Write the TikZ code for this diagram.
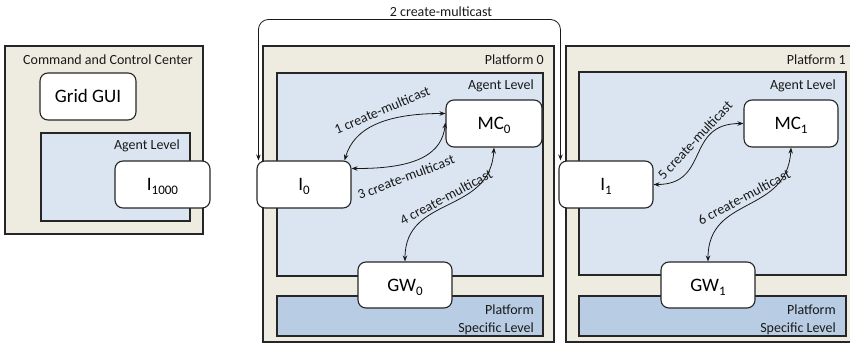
\documentclass[tikz,border=0pt]{standalone}
\usepackage{fontspec}
\setmainfont{Carlito}
\usetikzlibrary{arrows.meta}
\definecolor{beige}{RGB}{238,236,225}
\definecolor{agentblue}{RGB}{219,229,241}
\definecolor{pslblue}{RGB}{184,204,228}
\newcommand\lowsub[1]{\raisebox{-4pt}{\fontsize{13}{13}\selectfont #1}}
\begin{document}
\begin{tikzpicture}[x=1pt,y=-1pt,
  frame/.style={draw=black!85, line width=1.1pt, fill=beige},
  agentlvl/.style={draw=black!85, line width=1.1pt, fill=agentblue},
  pslvl/.style={draw=black!85, line width=1.1pt, fill=pslblue},
  agentbox/.style={draw=black!85, line width=1.1pt, fill=white, rounded corners=8pt,
    font=\fontsize{19}{22}\selectfont, inner sep=0pt, text height=12.2pt, text depth=0pt},
  lbl/.style={font=\fontsize{14}{18}\selectfont, inner sep=0pt, text=black!90},
  msg/.style={{Stealth[length=6pt,width=4.5pt]}-{Stealth[length=6pt,width=4.5pt]}, line width=0.8pt, draw=black!90}]
\useasboundingbox (0,0) rectangle (850,344);

% ---------- Command and Control Center ----------
\path[frame] (5,46) rectangle (203,234);
\node[lbl, anchor=base east] (cccl) at (193,64.5) {Command and Control Center};
\node[agentbox, minimum width=96pt, minimum height=47pt] (gui) at (88,96.5) {Grid GUI};
\path[agentlvl] (41,133) rectangle (190,221);
\node[lbl, anchor=base east] (cccal) at (180,149.5) {Agent Level};
\node[agentbox, minimum width=95pt, minimum height=47pt] (I1000) at (162.5,184.5) {I\lowsub{1000}};

% ---------- Platform 0 ----------
\path[frame] (263,46) rectangle (554,342);
\node[lbl, anchor=base east] (p0l) at (544,64.5) {Platform 0};
\path[agentlvl] (277,73) rectangle (543,276);
\node[lbl, anchor=base east] (p0al) at (534,89.5) {Agent Level};
\path[pslvl] (277,296) rectangle (543,336);
\node[lbl, anchor=south east, align=right] (p0pl) at (534,334.5) {Platform\\Specific Level};
\node[agentbox, minimum width=94pt, minimum height=47pt] (I0) at (304,184.5) {I\lowsub{0}};
\node[agentbox, minimum width=96pt, minimum height=47pt] (MC0) at (494,123.5) {MC\lowsub{0}};
\node[agentbox, minimum width=94pt, minimum height=46pt] (GW0) at (405,285) {GW\lowsub{0}};

% ---------- Platform 1 ----------
\path[frame] (566,46) rectangle (857,342);
\node[lbl, anchor=base east] (p1l) at (846,64.5) {Platform 1};
\path[agentlvl] (579,72) rectangle (846,275);
\node[lbl, anchor=base east] (p1al) at (836,89.5) {Agent Level};
\path[pslvl] (579,296) rectangle (846,336);
\node[lbl, anchor=south east, align=right] (p1pl) at (836,334.5) {Platform\\Specific Level};
\node[agentbox, minimum width=94pt, minimum height=47pt] (I1) at (606,184.5) {I\lowsub{1}};
\node[agentbox, minimum width=94pt, minimum height=47pt] (MC1) at (791,123.5) {MC\lowsub{1}};
\node[agentbox, minimum width=94pt, minimum height=46pt] (GW1) at (708,285) {GW\lowsub{1}};

% ---------- messages ----------
\coordinate (topline) at (0,19.5);
\coordinate (e0) at ([xshift=2pt]I0.north west);
\coordinate (e1) at ([xshift=2pt]I1.north west);
\draw[msg, rounded corners=10pt] (e0) -- (e0 |- topline) -- (e1 |- topline) -- (e1);
\node[lbl, anchor=base] (l2) at (441,16.5) {2 create-multicast};

\draw[msg] ([xshift=-7pt]I0.north east) .. controls (354,128) and (385,113.5) .. ([yshift=10pt]MC0.west);
\node[lbl, rotate=23] (l1) at (382,110) {1 create-multicast};

\draw[msg] ([yshift=-8pt]I0.north east) .. controls (420,169) and (442,152) .. ([yshift=1pt]MC0.west);
\node[lbl, rotate=21] (l3) at (406,177) {3 create-multicast};

\draw[msg] (MC0.south) .. controls (490,215) and (405,195) .. (GW0.north);
\node[lbl, rotate=28] (l4) at (446,197) {4 create-multicast};

\draw[msg] (I1.east) .. controls (710,184.5) and (685,123.5) .. (MC1.west);
\node[lbl, rotate=47] (l5) at (695,140) {5 create-multicast};

\draw[msg] (MC1.south) .. controls (787,215) and (708,195) .. (GW1.north);
\node[lbl, rotate=28] (l6) at (744,197) {6 create-multicast};
\end{tikzpicture}
\end{document}
